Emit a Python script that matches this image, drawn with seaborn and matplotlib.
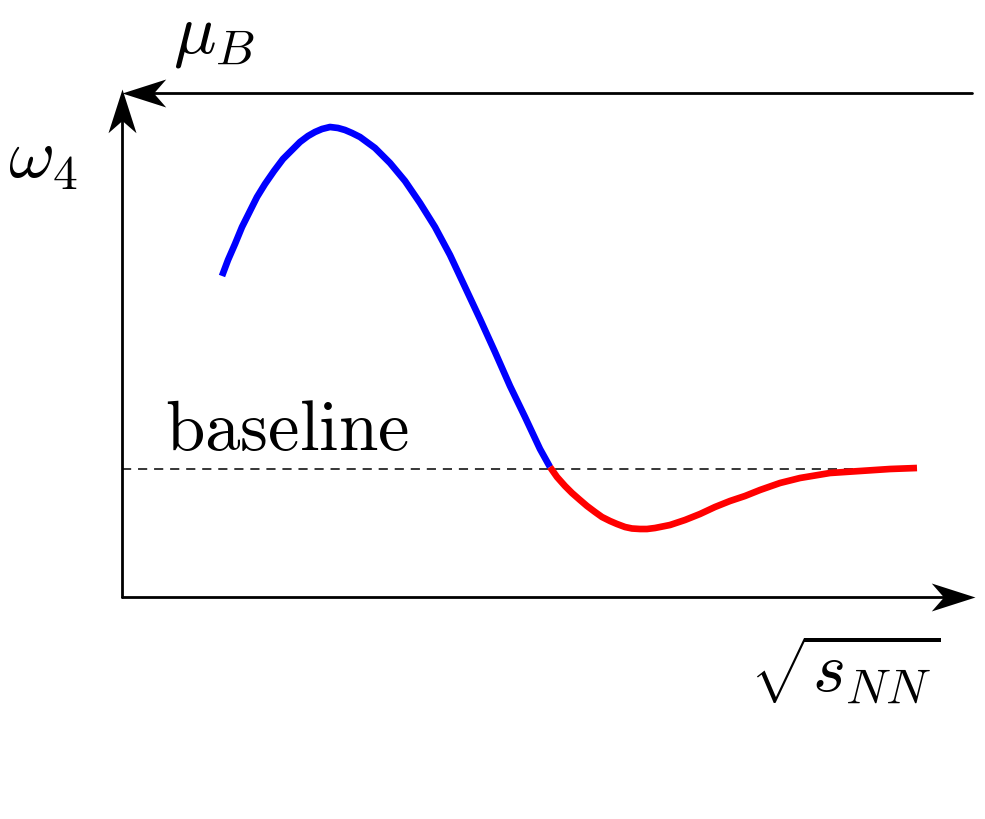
import numpy as np
import pandas as pd
import seaborn as sns
import matplotlib
matplotlib.use("Agg")
import matplotlib.pyplot as plt
from matplotlib.path import Path
from matplotlib.markers import MarkerStyle
from matplotlib.transforms import Affine2D

# curve values (arbitrary units, origin at the axis corner)
blue_x = [100, 106, 113, 120, 128, 135, 143, 152, 161, 170, 178, 186, 193,
          200, 208, 216, 223, 230, 238, 253, 268, 283, 298, 313, 328, 343,
          358, 373, 388, 403, 418, 428]
blue_y = [321, 337, 353, 370, 386, 400, 413, 426, 438, 447, 455, 461, 465,
          468, 470, 469, 467, 464, 460, 449, 434, 416, 394, 370, 342, 310,
          278, 245, 211, 180, 148, 130]

red_x = [428, 435, 443, 450, 458, 465, 473, 480, 488, 495, 503, 510, 518,
         525, 533, 548, 563, 578, 593, 608, 623, 638, 658, 678, 708, 738,
         768, 795]
red_y = [130, 120, 111, 104, 97, 91, 85, 80, 76, 73, 70, 68.5, 68,
         68, 69, 72, 77, 83, 90, 96, 101, 107, 114, 119, 124, 126,
         128, 129]

baseline_y = 128
baseline_x = [0, 795]

x_end = 853      # x-axis arrow tip
y_end = 508      # y-axis arrow tip
top_y = 504      # mu_B axis
top_start = 850

sns.set_style("white")
plt.rcParams["mathtext.fontset"] = "cm"
plt.rcParams["text.color"] = "black"

fig = plt.figure(figsize=(9.85, 8.2), dpi=100)
ax = fig.add_axes([0, 0, 1, 1])
ax.set_xlim(-122, 863)
ax.set_ylim(-222, 598)
ax.axis("off")

blue = pd.DataFrame({"x": blue_x, "y": blue_y})
red = pd.DataFrame({"x": red_x, "y": red_y})

# dashed baseline
ax.plot(baseline_x, [baseline_y, baseline_y], color="black", lw=1.1,
        dashes=(6, 4.5), zorder=1)

sns.lineplot(data=blue, x="x", y="y", sort=False, color="#0000ff", lw=4.8,
             ax=ax, zorder=3, solid_joinstyle="round", solid_capstyle="butt")
sns.lineplot(data=red, x="x", y="y", sort=False, color="#ff0000", lw=4.8,
             ax=ax, zorder=3, solid_joinstyle="round", solid_capstyle="butt")

# stealth style arrow head, tip at origin
head = Path([(0, 0), (-1, 0.32), (-0.72, 0), (-1, -0.32), (0, 0)],
            [Path.MOVETO, Path.LINETO, Path.LINETO, Path.LINETO, Path.CLOSEPOLY])


def arrow_head(x, y, angle):
    m = MarkerStyle(head, transform=Affine2D().rotate_deg(angle))
    ax.plot([x], [y], marker=m, markersize=63, color="black",
            markeredgewidth=0, zorder=5)


ax.plot([0, x_end - 20], [0, 0], color="black", lw=2, zorder=4)
ax.plot([0, 0], [0, y_end - 20], color="black", lw=2, zorder=4)
ax.plot([top_start, 20], [top_y, top_y], color="black", lw=2, zorder=4)
arrow_head(x_end, 0, 0)
arrow_head(0, y_end, 90)
arrow_head(0, top_y, 180)

fs = 51
ax.text(92, 562, r"$\mu_B$", fontsize=fs, ha="center", va="center")
ax.text(-79, 440, r"$\omega_4$", fontsize=fs, ha="center", va="center")
ax.text(43, 148, r"$\mathrm{baseline}$", fontsize=fs, ha="left", va="baseline")
ax.text(723, -72, r"$\sqrt{s_{NN}}$", fontsize=fs, ha="center", va="center")

fig.savefig("out.png", dpi=100)
